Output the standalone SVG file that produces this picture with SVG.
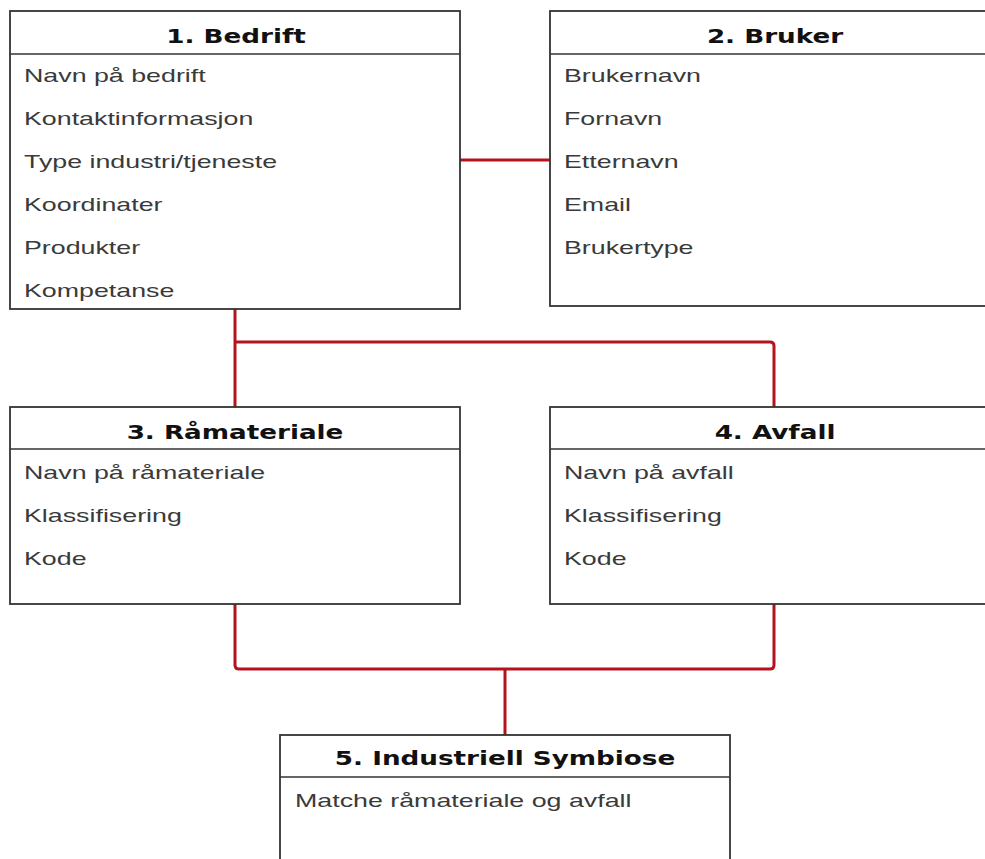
<svg xmlns="http://www.w3.org/2000/svg" width="985" height="859" viewBox="0 0 985 859">
  <style>
    .box { fill: #ffffff; stroke: #333333; stroke-width: 1.8; }
    .sep { stroke: #333333; stroke-width: 1.6; fill: none; }
    .title { font-family: "DejaVu Sans", Verdana, sans-serif; font-weight: bold; font-size: 19px; fill: #111111; text-anchor: middle; }
    .row { font-family: "Liberation Sans", Arial, sans-serif; font-size: 19px; fill: #3a3a3a; }
    .link { fill: none; stroke: #b3141c; stroke-width: 3; stroke-linejoin: round; }
  </style>

  <rect width="985" height="859" fill="#ffffff"/>

  <!-- connectors -->
  <g id="connectors">
    <path class="link" d="M460 160 H550"/>
    <path class="link" d="M235 309 V407"/>
    <path class="link" d="M235 342 H770 Q774 342 774 346 V407"/>
    <path class="link" d="M235 604 V665 Q235 669 239 669 H770 Q774 669 774 665 V604"/>
    <path class="link" d="M505 669 V735"/>
  </g>

  <!-- 1. Bedrift -->
  <g id="bedrift">
    <rect class="box" x="10" y="11" width="450" height="298"/>
    <line class="sep" x1="10" y1="54" x2="460" y2="54"/>
    <text class="title" transform="translate(236 43) scale(1.38 1)">1. Bedrift</text>
    <text class="row" transform="translate(24 82) scale(1.41 1)">Navn på bedrift</text>
    <text class="row" transform="translate(24 125) scale(1.41 1)">Kontaktinformasjon</text>
    <text class="row" transform="translate(24 168) scale(1.41 1)">Type industri/tjeneste</text>
    <text class="row" transform="translate(24 211) scale(1.41 1)">Koordinater</text>
    <text class="row" transform="translate(24 254) scale(1.41 1)">Produkter</text>
    <text class="row" transform="translate(24 297) scale(1.41 1)">Kompetanse</text>
  </g>

  <!-- 2. Bruker -->
  <g id="bruker">
    <rect class="box" x="550" y="11" width="450" height="295"/>
    <line class="sep" x1="550" y1="54" x2="1000" y2="54"/>
    <text class="title" transform="translate(775 43) scale(1.38 1)">2. Bruker</text>
    <text class="row" transform="translate(564 82) scale(1.41 1)">Brukernavn</text>
    <text class="row" transform="translate(564 125) scale(1.41 1)">Fornavn</text>
    <text class="row" transform="translate(564 168) scale(1.41 1)">Etternavn</text>
    <text class="row" transform="translate(564 211) scale(1.41 1)">Email</text>
    <text class="row" transform="translate(564 254) scale(1.41 1)">Brukertype</text>
  </g>

  <!-- 3. Råmateriale -->
  <g id="raamateriale">
    <rect class="box" x="10" y="407" width="450" height="197"/>
    <line class="sep" x1="10" y1="449" x2="460" y2="449"/>
    <text class="title" transform="translate(235 439) scale(1.38 1)">3. Råmateriale</text>
    <text class="row" transform="translate(24 479) scale(1.41 1)">Navn på råmateriale</text>
    <text class="row" transform="translate(24 522) scale(1.41 1)">Klassifisering</text>
    <text class="row" transform="translate(24 565) scale(1.41 1)">Kode</text>
  </g>

  <!-- 4. Avfall -->
  <g id="avfall">
    <rect class="box" x="550" y="407" width="450" height="197"/>
    <line class="sep" x1="550" y1="449" x2="1000" y2="449"/>
    <text class="title" transform="translate(775 439) scale(1.38 1)">4. Avfall</text>
    <text class="row" transform="translate(564 479) scale(1.41 1)">Navn på avfall</text>
    <text class="row" transform="translate(564 522) scale(1.41 1)">Klassifisering</text>
    <text class="row" transform="translate(564 565) scale(1.41 1)">Kode</text>
  </g>

  <!-- 5. Industriell Symbiose -->
  <g id="symbiose">
    <rect class="box" x="280" y="735" width="450" height="150"/>
    <line class="sep" x1="280" y1="777" x2="730" y2="777"/>
    <text class="title" transform="translate(505 765) scale(1.38 1)">5. Industriell Symbiose</text>
    <text class="row" transform="translate(295 807) scale(1.41 1)">Matche råmateriale og avfall</text>
  </g>
</svg>
